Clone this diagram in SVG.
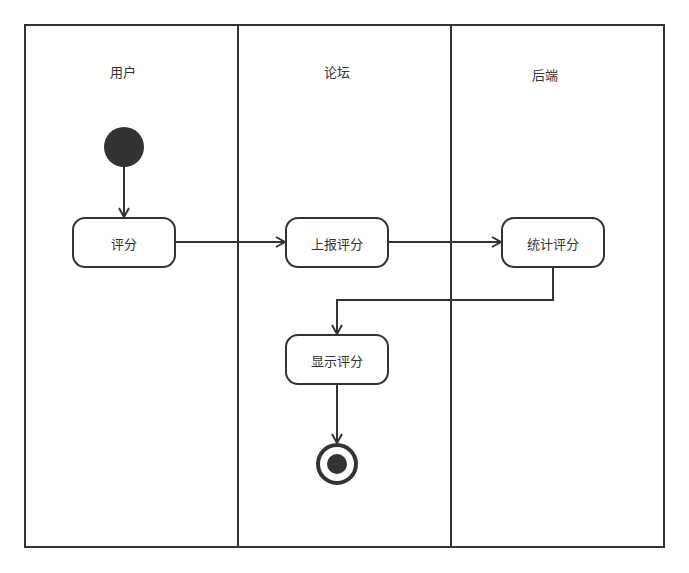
<svg xmlns="http://www.w3.org/2000/svg" width="689" height="573" viewBox="0 0 689 573">
<style>
text{font-family:"Noto Sans CJK SC","Liberation Sans",sans-serif;font-size:13px;fill:#333;text-anchor:middle;dominant-baseline:central}
.lane{fill:none;stroke:#333;stroke-width:2}
.act{fill:#fff;stroke:#333;stroke-width:2}
.con{fill:none;stroke:#333;stroke-width:2}
</style>
<defs>
<marker id="arr" markerWidth="12" markerHeight="12" refX="10" refY="6" orient="auto" markerUnits="userSpaceOnUse">
<path d="M1,1 L10,6 L1,11" fill="none" stroke="#333" stroke-width="2"/>
</marker>
</defs>
<rect width="689" height="573" fill="#fff"/>
<g id="lanes">
<rect class="lane" x="25" y="25" width="639" height="522"/>
<line class="lane" x1="238" y1="25" x2="238" y2="547"/>
<line class="lane" x1="451" y1="25" x2="451" y2="547"/>
<text x="123" y="71">用户</text>
<text x="337" y="71">论坛</text>
<text x="545" y="74">后端</text>
</g>
<g id="connectors">
<line class="con" x1="124" y1="167" x2="124" y2="217" marker-end="url(#arr)"/>
<line class="con" x1="175" y1="242" x2="285" y2="242" marker-end="url(#arr)"/>
<line class="con" x1="388" y1="242" x2="501" y2="242" marker-end="url(#arr)"/>
<polyline class="con" points="553,267 553,300 337,300 337,334" marker-end="url(#arr)"/>
<line class="con" x1="337" y1="384" x2="337" y2="443" marker-end="url(#arr)"/>
</g>
<g id="start"><circle cx="124" cy="147" r="20" fill="#333"/></g>
<g id="n1"><rect class="act" x="73" y="218" width="102" height="49" rx="12"/><text x="124" y="243">评分</text></g>
<g id="n2"><rect class="act" x="286" y="218" width="102" height="49" rx="12"/><text x="337" y="243">上报评分</text></g>
<g id="n3"><rect class="act" x="502" y="218" width="102" height="49" rx="12"/><text x="553" y="243">统计评分</text></g>
<g id="n4"><rect class="act" x="286" y="335" width="102" height="49" rx="12"/><text x="337" y="360">显示评分</text></g>
<g id="end"><circle cx="337" cy="464" r="19" fill="#fff" stroke="#333" stroke-width="4"/><circle cx="337" cy="464" r="10" fill="#333"/></g>
</svg>
